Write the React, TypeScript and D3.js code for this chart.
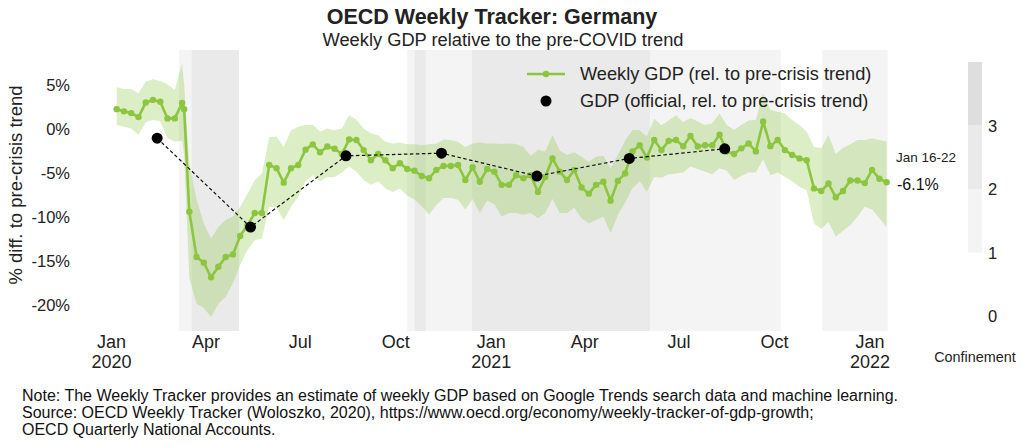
import React from "react";
import * as d3 from "d3";

// ---------- DATA ----------
const weekStart = "2020-01-06";
const extraObsDate = "2020-03-11"; // one irregular observation after the week of Mar 9
const extraObsIndex = 10;

const weeklyGdp = [
  2.2, 1.95, 1.75, 1.3, 2.95, 3.25, 3.05, 1.15, 1.15, 2.9,
  2.2,
  -9.45, -14.6, -15.25, -16.9, -15.7, -14.6, -14.3, -12.2, -11.0, -9.6,
  -9.6, -4.15, -4.5, -6.15, -4.5, -4.15, -2.4, -1.8, -2.7, -2.05,
  -2.3, -2.9, -1.25, -1.3, -2.45, -3.6, -2.9, -3.6, -4.5, -3.95,
  -4.6, -4.8, -5.4, -5.65, -4.7, -4.25, -4.25, -4.15, -5.85, -4.4,
  -6.05, -4.6, -4.9, -6.4, -6.4, -5.3, -5.65, -5.3, -7.2, -5.5,
  -3.4, -4.9, -5.85, -4.7, -6.7, -7.4, -6.4, -6.05, -8.2, -5.95,
  -5.1, -2.6, -1.9, -3.3, -1.3, -2.45, -1.4, -1.3, -2.0, -0.85,
  -2.05, -1.9, -1.9, -0.7, -2.6, -2.9, -2.25, -1.7, -2.6, 0.8,
  -2.0, -1.3, -2.45, -3.0, -3.4, -3.6, -6.8, -7.1, -6.25, -7.8,
  -7.1, -5.9, -5.9, -6.2, -4.7, -5.7, -6.1,
];

const upperBand = [
  4.7, 4.5, 4.5, 4.0, 5.3, 5.6, 5.4, 5.0, 4.4, 7.4,
  5.0,
  -4.0, -8.1, -10.8, -12.5, -11.2, -10.4, -10.0, -8.9, -7.4, -5.85,
  -5.1, -1.0, -0.9, -2.1, -0.2, 0.2, 0.4, 0.4, -0.35, 0.0,
  -0.2, 0.0, 1.5, 1.0, 0.0, -0.55, -0.75, -1.5, -1.7, -1.6,
  -1.8, -1.8, -1.9, -1.8, -1.7, -1.25, -1.3, -1.5, -2.1, -1.7,
  -1.6, -1.7, -1.7, -1.75, -1.7, -1.75, -2.1, -3.1, -2.4, -2.6,
  -0.75, -2.5, -3.0, -2.7, -3.2, -3.8, -3.2, -3.1, -4.5, -3.0,
  -1.4, -0.17, -0.2, -0.9, 1.1, 0.36, 0.9, 1.5, 0.7, 1.2,
  0.8, 0.4, 0.6, 1.7, 0.4, -0.17, 0.4, 0.9, 1.0, 4.0,
  2.1, 1.9, 1.7, 0.97, 0.4, -0.36, -2.06, -2.2, -0.74, -2.9,
  -2.2, -1.8, -1.3, -1.3, -1.1, -1.3, -1.5,
];

const lowerBand = [
  0.4, 0.2, 0.0, -0.7, 0.7, 1.0, 0.8, -1.1, -1.5, -1.4,
  -3.0,
  -17.0, -19.9, -20.4, -21.4, -19.9, -19.1, -17.6, -15.5, -13.8, -12.7,
  -12.5, -8.9, -9.0, -10.4, -8.9, -7.75, -6.0, -5.3, -6.0, -5.5,
  -5.5, -5.0, -4.3, -4.9, -5.85, -6.4, -6.0, -6.8, -7.2, -6.8,
  -7.6, -8.1, -8.8, -9.8, -8.7, -7.9, -7.9, -8.1, -9.2, -8.0,
  -9.6, -8.2, -8.6, -10.0, -9.6, -9.6, -9.8, -9.6, -10.2, -9.6,
  -8.0, -9.6, -9.6, -9.0, -10.2, -10.8, -10.4, -10.0, -11.9, -9.8,
  -8.4, -6.8, -6.0, -7.2, -5.5, -5.6, -5.2, -5.1, -5.0, -4.3,
  -4.6, -4.9, -5.2, -4.5, -4.8, -5.85, -5.4, -5.0, -5.0, -3.5,
  -5.3, -5.0, -5.5, -6.0, -6.6, -7.0, -10.8, -11.4, -10.6, -12.3,
  -11.6, -11.0, -10.0, -8.9, -9.2, -10.2, -11.2,
];

const officialDates = ["2020-02-14", "2020-05-14", "2020-08-14", "2020-11-14", "2021-02-14", "2021-05-14", "2021-08-14"];
const officialGdp = [-1.1, -11.2, -3.1, -2.8, -5.4, -3.4, -2.3];

const confinementStarts = ["2020-03-06", "2020-03-18", "2020-10-12", "2020-10-19", "2020-10-30", "2020-12-13", "2021-06-03", "2021-11-16"];
const confinementEnds = ["2020-03-18", "2020-05-03", "2020-10-19", "2020-10-30", "2020-12-13", "2021-06-03", "2021-10-07", "2022-01-18"];
const confinementLevels = [1, 2, 1, 2, 1, 2, 1, 1];

const yTicks = [5, 0, -5, -10, -15, -20];
const xTickDates = ["2020-01-01", "2020-04-01", "2020-07-01", "2020-10-01", "2021-01-01", "2021-04-01", "2021-07-01", "2021-10-01", "2022-01-01"];
const xTickMonths = ["Jan", "Apr", "Jul", "Oct", "Jan", "Apr", "Jul", "Oct", "Jan"];
const xTickYears = ["2020", "", "", "", "2021", "", "", "", "2022"];

const confBarLevels = [1, 2, 3];
const confBarTicks = [0, 1, 2, 3];

const lastLabelPeriod = "Jan 16-22";
const lastLabelValue = "-6.1%";

const titleText = "OECD Weekly Tracker: Germany";
const subtitleText = "Weekly GDP relative to the pre-COVID trend";
const yAxisTitle = "% diff. to pre-crisis trend";
const legendWeekly = "Weekly GDP (rel. to pre-crisis trend)";
const legendOfficial = "GDP (official, rel. to pre-crisis trend)";
const confinementTitle = "Confinement";
const noteLines = [
  "Note: The Weekly Tracker provides an estimate of weekly GDP based on Google Trends search data and machine learning.",
  "Source: OECD Weekly Tracker (Woloszko, 2020), https://www.oecd.org/economy/weekly-tracker-of-gdp-growth;",
  "OECD Quarterly National Accounts.",
];

// ---------- HELPERS ----------
const parse = (s: string) => new Date(s + "T00:00:00Z");

const GREEN = "#8cc63f";
const FONT = "'Liberation Sans', Arial, Helvetica, sans-serif";
const TEXT = "#222";
const confColors: Record<number, string> = { 1: "#f4f4f4", 2: "#eaeaea", 3: "#dedede" };

export default function App() {
  const W = 1023;
  const H = 445;
  const top = 50;
  const bottom = 331;

  const x = d3.scaleUtc().domain([parse("2020-01-01"), parse("2022-01-01")]).range([111.5, 870]);
  const y = d3.scaleLinear().domain([-23, 8.92]).range([bottom, top]);

  const start = parse(weekStart);
  const dates = weeklyGdp.map((_, i) => {
    if (i === extraObsIndex) return parse(extraObsDate);
    const w = i > extraObsIndex ? i - 1 : i;
    return d3.utcDay.offset(start, 7 * w);
  });

  const pts = weeklyGdp.map((v, i) => ({ d: dates[i], v, hi: upperBand[i], lo: lowerBand[i] }));

  const area = d3
    .area<any>()
    .x((p) => x(p.d))
    .y0((p) => y(p.lo))
    .y1((p) => y(p.hi));
  const line = d3
    .line<any>()
    .x((p) => x(p.d))
    .y((p) => y(p.v));

  const off = officialGdp.map((v, i) => ({ d: parse(officialDates[i]), v }));
  const offLine = d3
    .line<any>()
    .x((p) => x(p.d))
    .y((p) => y(p.v));

  const confY = d3.scaleLinear().domain([0, 4]).range([316, 62]);

  return (
    <svg
      width={W}
      height={H}
      style={{ position: "absolute", left: 0, top: 0, background: "#fff" }}
      fontFamily={FONT}
    >
      <rect x={0} y={0} width={W} height={H} fill="#fff" />
      {/* confinement shading */}
      {confinementStarts.map((s, i) => (
        <rect
          key={"c" + i}
          x={x(parse(s))}
          y={top}
          width={x(parse(confinementEnds[i])) - x(parse(s))}
          height={bottom - top}
          fill={confColors[confinementLevels[i]]}
        />
      ))}

      {/* titles */}
      <text x={492} y={24} textAnchor="middle" fontSize={21.5} fontWeight="bold" fill={TEXT}>
        {titleText}
      </text>
      <text x={503} y={46} textAnchor="middle" fontSize={18.3} fill={TEXT}>
        {subtitleText}
      </text>

      {/* y axis */}
      {yTicks.map((t) => (
        <text key={"y" + t} x={70} y={y(t)} textAnchor="end" dominantBaseline="central" fontSize={16.5} fill={TEXT}>
          {t + "%"}
        </text>
      ))}
      <text
        transform={`translate(15,${185}) rotate(-90)`}
        textAnchor="middle"
        dominantBaseline="central"
        fontSize={18.5}
        fill={TEXT}
      >
        {yAxisTitle}
      </text>

      {/* x axis */}
      {xTickDates.map((s, i) => (
        <g key={"x" + i}>
          <text x={x(parse(s))} y={348} textAnchor="middle" fontSize={18} fill={TEXT}>
            {xTickMonths[i]}
          </text>
          {xTickYears[i] && (
            <text x={x(parse(s))} y={368} textAnchor="middle" fontSize={18} fill={TEXT}>
              {xTickYears[i]}
            </text>
          )}
        </g>
      ))}

      {/* band */}
      <path d={area(pts) || ""} fill={GREEN} fillOpacity={0.3} stroke="none" />
      {/* weekly line */}
      <path d={line(pts) || ""} fill="none" stroke={GREEN} strokeWidth={2.6} strokeLinejoin="round" />
      {pts.map((p, i) => (
        <circle key={"p" + i} cx={x(p.d)} cy={y(p.v)} r={3.2} fill={GREEN} />
      ))}

      {/* official */}
      <path d={offLine(off) || ""} fill="none" stroke="#111" strokeWidth={1.2} strokeDasharray="3.5,2.5" />
      {off.map((p, i) => (
        <circle key={"o" + i} cx={x(p.d)} cy={y(p.v)} r={5.5} fill="#000" />
      ))}

      {/* last value labels */}
      <text x={896} y={162} fontSize={13.5} fill={TEXT}>
        {lastLabelPeriod}
      </text>
      <text x={897} y={190} fontSize={16} fill="#111">
        {lastLabelValue}
      </text>

      {/* legend */}
      <line x1={527} x2={565} y1={74} y2={74} stroke={GREEN} strokeWidth={2.6} />
      <circle cx={546} cy={74} r={3.2} fill={GREEN} />
      <text x={580} y={74} dominantBaseline="central" fontSize={18.2} fill={TEXT}>
        {legendWeekly}
      </text>
      <circle cx={546} cy={101} r={5.5} fill="#000" />
      <text x={580} y={101} dominantBaseline="central" fontSize={18.2} fill={TEXT}>
        {legendOfficial}
      </text>

      {/* confinement colour bar */}
      {confBarLevels.map((l) => (
        <rect
          key={"cb" + l}
          x={968}
          y={confY(l + 1)}
          width={14}
          height={confY(l) - confY(l + 1)}
          fill={confColors[l]}
        />
      ))}
      {confBarTicks.map((t) => (
        <text key={"ct" + t} x={988} y={confY(t)} dominantBaseline="central" fontSize={16.5} fill={TEXT}>
          {t}
        </text>
      ))}
      <text x={975} y={362} textAnchor="middle" fontSize={14.4} fill={TEXT}>
        {confinementTitle}
      </text>

      {/* notes */}
      {noteLines.map((s, i) => (
        <text key={"n" + i} x={22} y={401 + i * 17} fontSize={16} fill="#111">
          {s}
        </text>
      ))}
    </svg>
  );
}
